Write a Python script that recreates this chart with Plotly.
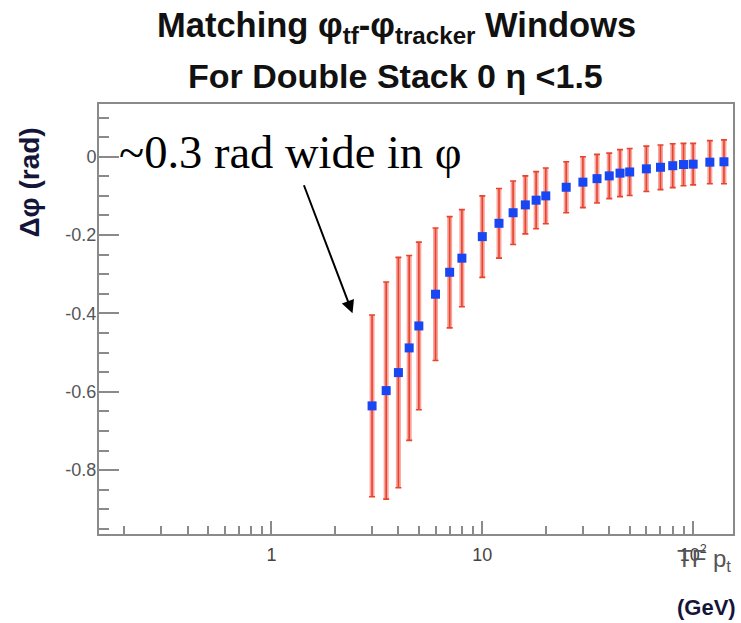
import plotly.graph_objects as go

# ---- data ----
pt = [3, 3.5, 4, 4.5, 5, 6, 7, 8, 10, 12, 14, 16, 18, 20, 25, 30, 35, 40, 45,
      50, 60, 70, 80, 90, 100, 120, 140]
dphi = [-0.636, -0.597, -0.551, -0.488, -0.432, -0.351, -0.295, -0.259, -0.204,
        -0.170, -0.143, -0.123, -0.111, -0.100, -0.078, -0.065, -0.056, -0.049,
        -0.042, -0.039, -0.031, -0.027, -0.023, -0.020, -0.019, -0.014, -0.013]
err = [0.232, 0.277, 0.294, 0.236, 0.214, 0.169, 0.142, 0.124, 0.104, 0.089,
       0.081, 0.074, 0.073, 0.071, 0.065, 0.065, 0.062, 0.058, 0.060, 0.060,
       0.058, 0.057, 0.056, 0.054, 0.053, 0.055, 0.056]

x_tickvals = [1, 10, 100]
x_ticktext = ["1", "10", "10<sup>2</sup>"]
x_minor = [0.2, 0.3, 0.4, 0.5, 0.6, 0.7, 0.8, 0.9,
           2, 3, 4, 5, 6, 7, 8, 9,
           20, 30, 40, 50, 60, 70, 80, 90]
y_tickvals = [-0.8, -0.6, -0.4, -0.2, 0]
y_ticktext = ["-0.8", "-0.6", "-0.4", "-0.2", "0"]

GRAY = "#8a8a8a"
SANS = "Liberation Sans"
SERIF = "Liberation Serif"

fig = go.Figure()
# wide translucent halo of the error bars
fig.add_trace(go.Scatter(
    x=pt, y=dphi, mode="markers",
    marker=dict(size=1, color="rgba(0,0,0,0)"),
    error_y=dict(type="data", array=err, symmetric=True,
                 color="rgba(240,105,95,0.6)", thickness=5, width=0),
    hoverinfo="skip"))
# thin core + caps + markers
fig.add_trace(go.Scatter(
    x=pt, y=dphi, mode="markers",
    marker=dict(symbol="square", size=9, color="#1846f2"),
    error_y=dict(type="data", array=err, symmetric=True,
                 color="#e8442c", thickness=1.6, width=3)))

fig.update_layout(
    width=741, height=623,
    margin=dict(l=99, r=6, t=104, b=89),
    plot_bgcolor="white", paper_bgcolor="white",
    showlegend=False,
    xaxis=dict(
        type="log", range=[-0.818, 2.189],
        tickvals=x_tickvals, ticktext=x_ticktext,
        ticks="inside", ticklen=13, tickwidth=2, tickcolor=GRAY,
        showline=True, linecolor=GRAY, linewidth=2, mirror=True,
        showgrid=False, zeroline=False, ticklabelstandoff=3,
        tickfont=dict(family=SANS, size=18, color="#444"),
        minor=dict(tickvals=x_minor, ticks="inside", ticklen=8,
                   tickwidth=2, tickcolor=GRAY, showgrid=False),
    ),
    yaxis=dict(
        range=[-0.963, 0.1345],
        tickvals=y_tickvals, ticktext=y_ticktext,
        ticks="inside", ticklen=20, tickwidth=2, tickcolor=GRAY,
        showline=True, linecolor=GRAY, linewidth=2, mirror=True,
        showgrid=False, zeroline=False, ticklabelstandoff=-3,
        tickfont=dict(family=SANS, size=18, color="#555"),
        minor=dict(dtick=0.05, tick0=0, ticks="inside", ticklen=10,
                   tickwidth=2, tickcolor=GRAY, showgrid=False),
    ),
)

annotations = [
    dict(text="<b>Matching φ<sub>tf</sub>-φ<sub>tracker</sub> Windows</b>",
         xref="paper", yref="paper", x=0.470, y=1.179,
         xanchor="center", yanchor="middle", showarrow=False,
         font=dict(family=SANS, size=34.5, color="#111")),
    dict(text="<b>For Double Stack 0 η <1.5</b>",
         xref="paper", yref="paper", x=0.467, y=1.064,
         xanchor="center", yanchor="middle", showarrow=False,
         font=dict(family=SANS, size=34, color="#111")),
    dict(text="<b>Δφ (rad)</b>", textangle=-90,
         xref="paper", yref="paper", x=-0.110, y=0.818,
         xanchor="center", yanchor="middle", showarrow=False,
         font=dict(family=SANS, size=28, color="#15153a")),
    dict(text="TF p<sub>t</sub>",
         xref="paper", yref="paper", x=1.0, y=-0.062,
         xanchor="right", yanchor="middle", showarrow=False,
         font=dict(family=SANS, size=24, color="#555")),
    dict(text="<b>(GeV)</b>",
         xref="paper", yref="paper", x=1.008, y=-0.170,
         xanchor="right", yanchor="middle", showarrow=False,
         font=dict(family=SANS, size=22, color="#15153a")),
    dict(text="~0.3 rad wide in φ",
         xref="paper", yref="paper", x=0.028, y=0.8865,
         xanchor="left", yanchor="middle", showarrow=False,
         font=dict(family=SERIF, size=46.5, color="black")),
    dict(text=" ", xref="x", yref="y", x=0.3844, y=-0.3998,
         ax=-51.6, ay=-136, showarrow=True, arrowhead=2, arrowsize=1.3,
         arrowwidth=2, arrowcolor="black", standoff=0, startstandoff=0),
]
fig.update_layout(annotations=annotations)

fig.write_html("out.html",
               config={"displayModeBar": False},
               post_script="document.body.style.margin='0';"
                           "document.body.style.overflow='hidden';")
